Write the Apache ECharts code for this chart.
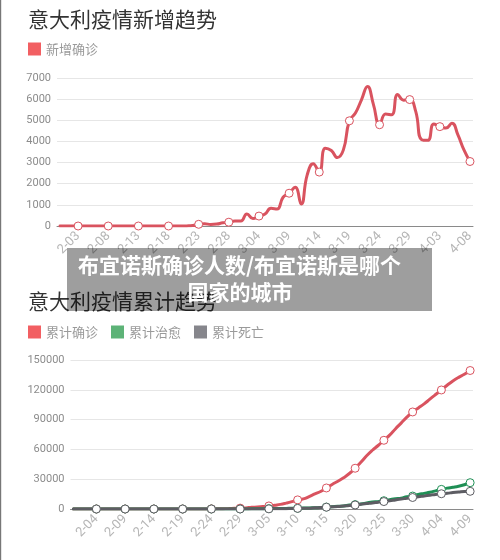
<!DOCTYPE html>
<html><head><meta charset="utf-8">
<style>html,body{margin:0;padding:0;background:#fff}#c{width:500px;height:560px;filter:blur(0.5px)}</style>
<script src="https://cdn.jsdelivr.net/npm/echarts@6/dist/echarts.min.js"></script>
</head><body><div id="c"></div>
<script>
const titleTop = '意大利疫情新增趋势';
const titleBottom = '意大利疫情累计趋势';
const overlayLine1 = '布宜诺斯确诊人数/布宜诺斯是哪个';
const overlayLine2 = '国家的城市';
const topDates = ['1-31','2-01','2-02','2-03','2-04','2-05','2-06','2-07','2-08','2-09','2-10','2-11','2-12','2-13','2-14','2-15','2-16','2-17','2-18','2-19','2-20','2-21','2-22','2-23','2-24','2-25','2-26','2-27','2-28','2-29','3-01','3-02','3-03','3-04','3-05','3-06','3-07','3-08','3-09','3-10','3-11','3-12','3-13','3-14','3-15','3-16','3-17','3-18','3-19','3-20','3-21','3-22','3-23','3-24','3-25','3-26','3-27','3-28','3-29','3-30','3-31','4-01','4-02','4-03','4-04','4-05','4-06','4-07','4-08'];
const bottomDates = topDates.concat(['4-09']);
const newConfirmed = [2,0,0,0,0,0,1,0,0,0,0,0,0,0,0,0,0,0,0,0,0,5,20,80,110,70,90,150,180,240,235,570,350,470,570,840,800,1360,1550,1830,1040,2420,2940,2550,3680,3570,3240,3600,4976,5340,5970,6600,5730,4790,5300,5260,6220,5950,5980,5420,4080,4050,4830,4700,4630,4860,4310,3600,3050];
const totalConfirmed = [2,2,2,2,2,2,3,3,3,3,3,3,3,3,3,3,3,3,3,3,3,20,62,76,155,229,322,453,655,888,1128,1694,2036,2502,3089,3858,4636,5883,7375,9172,10149,12462,15113,17660,21157,24747,27980,31506,35713,41035,47021,53578,59138,63927,69176,74386,80589,86498,92472,97689,101739,105792,110574,115242,119827,124632,128948,132547,135586,139422];
const totalCured = [0,0,0,0,0,0,0,0,0,0,0,0,0,0,0,0,0,0,0,0,0,0,1,2,2,1,3,45,46,46,83,149,160,276,414,523,589,622,724,724,1004,1045,1258,1439,1966,2335,2749,2941,4025,4440,5129,6072,7024,7432,8326,9362,10361,10950,12384,13030,14620,15729,16847,18278,19758,20996,21815,22837,24392,26491];
const totalDead = [0,0,0,0,0,0,0,0,0,0,0,0,0,0,0,0,0,0,0,0,0,1,2,3,7,10,12,17,21,29,34,52,79,107,148,197,233,366,463,631,827,827,1266,1441,1809,2158,2503,2978,3405,4032,4825,5476,6077,6820,7503,8215,9134,10023,10779,11591,12428,13155,13915,14681,15362,15887,16523,17127,17669,17800];
const topTicks = {max:7000, interval:1000};
const bottomTicks = {max:150000, interval:30000};

const FONT = '"Noto Sans CJK SC","Roboto",sans-serif';
const RED='#d9535f', REDL='#f25f62', GREEN='#1f8f55', GREENL='#5db377', GREY='#5d5d63', GREYL='#86868c';

function xAxis(grid, data, off){
  return {type:'category', gridIndex:grid, data, boundaryGap:true,
    axisTick:{show:false},
    axisLine:{lineStyle:{color:'#8a8a8a',width:1}},
    axisLabel:{rotate:45, color:'#b5b5b5', fontSize:13, margin:8, fontFamily:'Roboto',
      interval:(i)=>i%5===off, hideOverlap:false}};
}
function yAxis(grid, t){
  return {type:'value', gridIndex:grid, min:0, max:t.max, interval:t.interval,
    axisLine:{show:false}, axisTick:{show:false},
    axisLabel:{color:'#8c8c8c', fontSize:11, margin:6, fontFamily:'Roboto', formatter:(v)=>String(v)},
    splitLine:{lineStyle:{color:'#e6e6e6',width:1}}};
}
function line(name, grid, data, col, legendCol, off, z){
  return {name, type:'line', xAxisIndex:grid, yAxisIndex:grid, data, smooth:true, z,
    showAllSymbol:true, showSymbol:true,
    symbol:(v,p)=>p.dataIndex%5===off?'circle':'none', symbolSize:8,
    lineStyle:{color:col,width:3,cap:'round'},
    itemStyle:{color:'#fff',borderColor:col,borderWidth:1},
    color:legendCol, animation:false};
}
function legend(top, names, colors){
  return {left:28, top, padding:0, icon:'rect', itemWidth:13, itemHeight:13, itemGap:13, selectedMode:false,
    data:names.map((n,i)=>({name:n, icon:'rect', itemStyle:{color:colors[i],borderWidth:0}})),
    textStyle:{color:'#9a9a9a', fontSize:13, fontFamily:FONT}};
}
const chart = echarts.init(document.getElementById('c'), null, {renderer:'canvas'});
chart.setOption({
  animation:false, backgroundColor:'#fff',
  title:[
    {text:titleTop, left:28, top:9, padding:0, textStyle:{color:'#333',fontSize:21,fontWeight:'normal',fontFamily:FONT}},
    {text:titleBottom, left:28, top:291, padding:0, textStyle:{color:'#333',fontSize:21,fontWeight:'normal',fontFamily:FONT}}
  ],
  legend:[
    legend(42.5,['新增确诊'],[REDL]),
    legend(325.5,['累计确诊','累计治愈','累计死亡'],[REDL,GREENL,GREYL])
  ],
  grid:[
    {left:57, right:27, top:78, height:148},
    {left:70.5, right:27, top:360, height:149}
  ],
  xAxis:[xAxis(0,topDates,3), xAxis(1,bottomDates,4)],
  yAxis:[yAxis(0,topTicks), yAxis(1,bottomTicks)],
  series:[
    line('新增确诊',0,newConfirmed,RED,REDL,3,3),
    line('累计确诊',1,totalConfirmed,RED,REDL,4,3),
    line('累计治愈',1,totalCured,GREEN,GREENL,4,4),
    line('累计死亡',1,totalDead,GREY,GREYL,4,5)
  ],
  graphic:[
    {type:'rect', z:100, shape:{x:0,y:0,width:1.2,height:560}, style:{fill:'#777'}},
    {type:'rect', z:100, shape:{x:67,y:248,width:365,height:63}, style:{fill:'rgba(0,0,0,0.38)'}},
    {type:'text', z:101, x:239.5, y:265, style:{text:overlayLine1, fill:'#fff', font:'bold 21px "Noto Sans CJK SC"', align:'center', verticalAlign:'middle'}},
    {type:'text', z:101, x:240, y:292, style:{text:overlayLine2, fill:'#fff', font:'bold 21px "Noto Sans CJK SC"', align:'center', verticalAlign:'middle'}}
  ]
});
</script></body></html>
